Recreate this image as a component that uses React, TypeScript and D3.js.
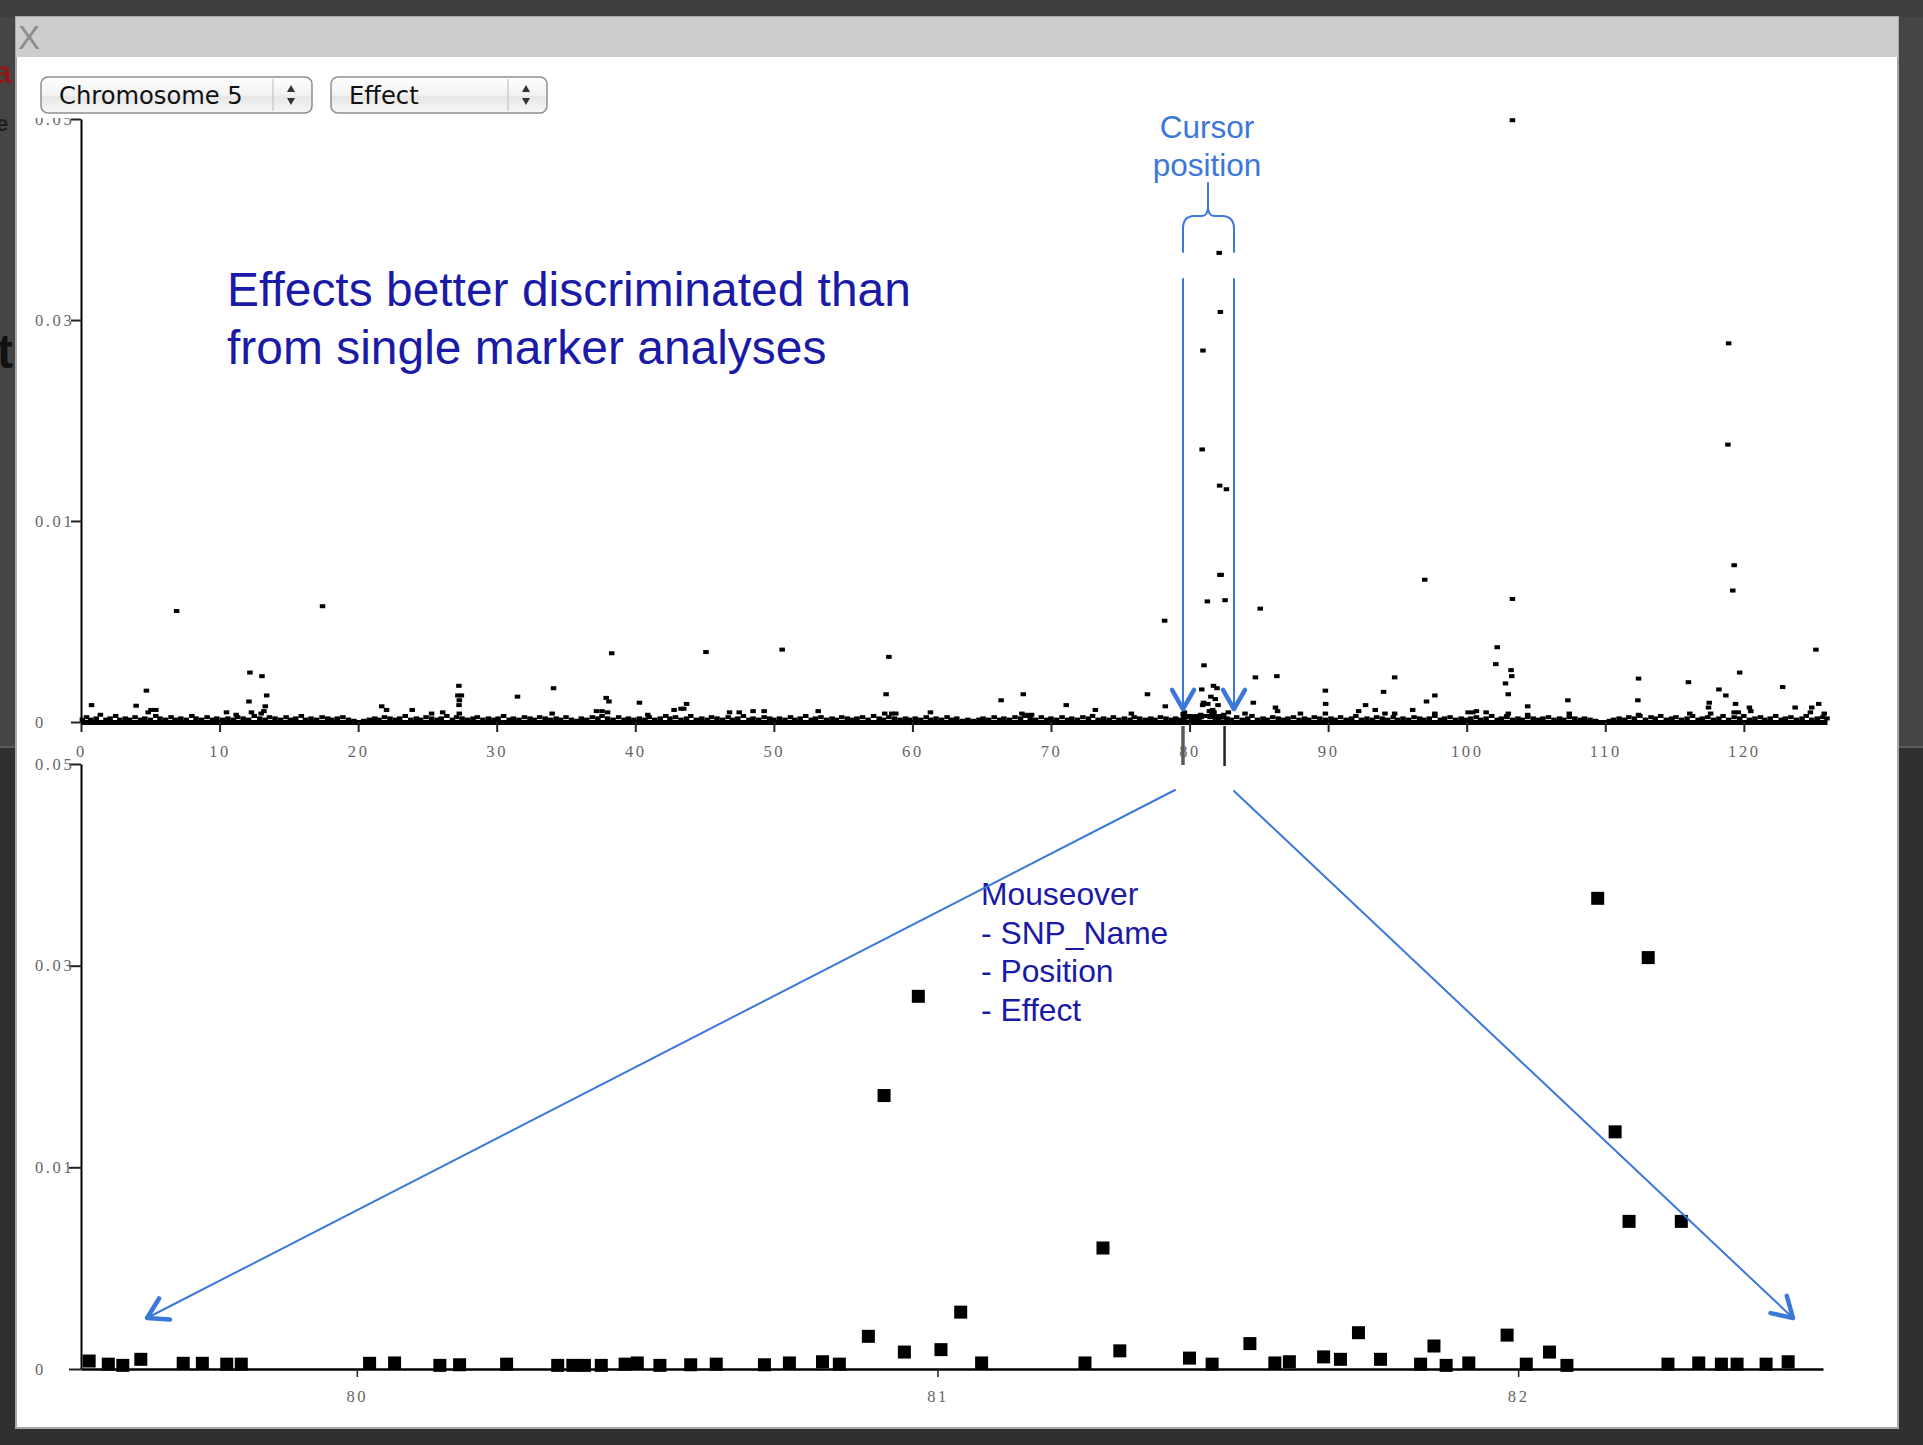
import React, { useRef, useEffect } from 'react';
import * as d3 from 'd3';

// Chromosome 5, marker effect by position (cM)

// isolated markers of the overview plot: [position, effect]
const overviewPeaks: [number, number][] = [
  [0.76, 0.0014], [3.98, 0.00135], [4.72, 0.0026], [4.85, 0.0008], [5.05, 0.001], [5.4, 0.001],
  [6.9, 0.0092], [10.5, 0.0008], [11.2, 0.0006], [12.12, 0.0017], [12.19, 0.0041], [12.3, 0.0008],
  [13.06, 0.0038], [13.4, 0.0022], [13.3, 0.0013], [13.2, 0.0009], [13.0, 0.0007], [17.43, 0.0096],
  [21.7, 0.0013], [22.05, 0.001], [23.9, 0.001], [25.3, 0.0007], [26.1, 0.0008],
  [27.27, 0.003], [27.2, 0.0022], [27.45, 0.0022], [27.3, 0.0018], [27.28, 0.0014], [27.3, 0.0007],
  [31.5, 0.0021], [34.1, 0.0028], [34.0, 0.0007], [37.2, 0.0009], [37.6, 0.0009], [37.9, 0.002],
  [38.1, 0.0017], [38.0, 0.0008], [38.3, 0.0057], [40.3, 0.0016], [40.9, 0.0006], [42.8, 0.001],
  [43.3, 0.0011], [43.7, 0.0015], [43.5, 0.0011], [45.1, 0.0058], [46.8, 0.0008], [47.5, 0.0008],
  [48.5, 0.0009], [49.3, 0.0009], [50.6, 0.006], [53.2, 0.0009], [58.0, 0.0007], [58.1, 0.0023],
  [58.3, 0.0054], [58.5, 0.0007], [58.8, 0.0007], [61.3, 0.0008], [66.4, 0.0018], [67.9, 0.0007],
  [68.0, 0.0023], [68.2, 0.0006], [68.4, 0.0005], [68.6, 0.0006], [71.1, 0.0014], [73.2, 0.001],
  [75.8, 0.0007], [76.96, 0.0023], [78.2, 0.0084], [78.25, 0.0013], [82.56, 0.0101], [82.66, 0.0193],
  [82.8, 0.0008], [84.0, 0.0007], [84.6, 0.0016], [84.75, 0.0037], [85.1, 0.0094], [86.2, 0.0012],
  [86.3, 0.0038], [86.35, 0.0009], [88.0, 0.0007], [89.8, 0.0026], [89.82, 0.0015], [89.8, 0.0007],
  [92.2, 0.0009], [92.7, 0.0014], [93.4, 0.001], [94.0, 0.0025], [94.8, 0.0037], [94.1, 0.0007],
  [94.8, 0.0007], [96.1, 0.001], [96.97, 0.0118], [97.1, 0.0017], [97.7, 0.0022], [97.7, 0.0007],
  [100.1, 0.0008], [100.45, 0.0008], [100.7, 0.0009], [101.4, 0.0008], [102.1, 0.0048], [102.2, 0.0062],
  [102.8, 0.0032], [103.0, 0.0023], [103.2, 0.0043], [103.25, 0.0038], [103.3, 0.0102], [103.3, 0.0499],
  [103.0, 0.0007], [102.9, 0.0005], [104.4, 0.0013], [104.4, 0.0006], [107.3, 0.0018], [107.4, 0.0007],
  [112.4, 0.0036], [112.35, 0.0018], [112.4, 0.0006], [116.0, 0.0033], [116.1, 0.0007], [117.5, 0.0016],
  [117.45, 0.0012], [117.6, 0.0007], [118.2, 0.0027], [118.7, 0.0022], [118.9, 0.0314], [118.85, 0.023],
  [119.3, 0.013], [119.2, 0.0109], [119.4, 0.0015], [119.7, 0.0041], [119.6, 0.0008], [119.3, 0.0008],
  [120.4, 0.0012], [120.5, 0.0009], [122.8, 0.0029], [123.7, 0.0012], [124.9, 0.0012], [124.8, 0.0008],
  [125.2, 0.006], [125.4, 0.0015], [125.8, 0.0007],
];

// dense band of small effects along the axis: [position, effect x 1e-4]
const baselineBand: [number, number][] = [
  [0.1, 2], [0.4, 4], [0.7, 2], [1.1, 3], [1.4, 6], [1.8, 2], [2.1, 3], [2.5, 5], [2.8, 2], [3.2, 3],
  [3.5, 2], [3.9, 4], [4.3, 2], [4.6, 3], [5.0, 2], [5.4, 5], [5.7, 3], [6.1, 2], [6.5, 4], [6.8, 2],
  [7.2, 3], [7.6, 2], [8.0, 5], [8.3, 3], [8.7, 2], [9.1, 4], [9.5, 2], [9.8, 3],
  [10.2, 2], [10.6, 3], [11.0, 2], [11.3, 4], [11.7, 3], [12.1, 2], [12.5, 5], [12.9, 3], [13.3, 2],
  [13.6, 4], [14.0, 3], [14.4, 2], [14.8, 4], [15.1, 2], [15.5, 3], [15.9, 5], [16.2, 2], [16.6, 3],
  [17.0, 2], [17.4, 4], [17.8, 3], [18.1, 2], [18.5, 3], [18.9, 4], [19.3, 2], [19.7, 1],
  [20.4, 1], [20.8, 2], [21.2, 3], [21.5, 2], [21.9, 4], [22.3, 3], [22.7, 2], [23.0, 3], [23.4, 5],
  [23.8, 2], [24.2, 3], [24.5, 2], [24.9, 4], [25.3, 3], [25.7, 2], [26.0, 3], [26.4, 5], [26.8, 2],
  [27.1, 4], [27.5, 3], [27.9, 2], [28.3, 3], [28.6, 4], [29.0, 2], [29.4, 3], [29.8, 2],
  [30.1, 3], [30.5, 5], [30.9, 2], [31.2, 3], [31.6, 2], [32.0, 4], [32.4, 3], [32.7, 2], [33.1, 4],
  [33.5, 3], [33.9, 2], [34.3, 3], [34.6, 2], [35.0, 4], [35.4, 2], [35.8, 1], [36.1, 3], [36.5, 2],
  [36.9, 4], [37.3, 3], [37.6, 5], [38.0, 3], [38.4, 2], [38.8, 4], [39.2, 2], [39.5, 3], [39.9, 2],
  [40.3, 3], [40.7, 2], [41.0, 4], [41.4, 2], [41.8, 3], [42.2, 5], [42.5, 3], [42.9, 4], [43.3, 2],
  [43.7, 3], [44.0, 5], [44.4, 2], [44.8, 3], [45.2, 2], [45.5, 4], [45.9, 3], [46.3, 2], [46.7, 4],
  [47.0, 2], [47.4, 3], [47.8, 5], [48.2, 2], [48.5, 3], [48.9, 2], [49.3, 4], [49.7, 3],
  [50.0, 2], [50.4, 3], [50.8, 2], [51.2, 4], [51.5, 2], [51.9, 3], [52.3, 5], [52.7, 2], [53.0, 3],
  [53.4, 4], [53.8, 2], [54.2, 3], [54.5, 2], [54.9, 4], [55.3, 3], [55.7, 2], [56.0, 3], [56.4, 4],
  [56.8, 2], [57.2, 5], [57.6, 3], [57.9, 2], [58.3, 4], [58.7, 3], [59.1, 2], [59.5, 3], [59.8, 2],
  [60.2, 3], [60.6, 2], [61.0, 4], [61.3, 2], [61.7, 3], [62.1, 2], [62.5, 4], [62.8, 2], [63.2, 3],
  [63.6, 1], [64.0, 2], [64.4, 1], [64.8, 2], [65.1, 3], [65.5, 2], [65.9, 4], [66.3, 2], [66.6, 3],
  [67.0, 2], [67.4, 4], [67.8, 3], [68.1, 5], [68.5, 3], [68.9, 2], [69.3, 4], [69.7, 2],
  [70.0, 3], [70.4, 2], [70.8, 4], [71.2, 2], [71.5, 3], [71.9, 2], [72.3, 4], [72.7, 3], [73.0, 5],
  [73.4, 2], [73.8, 3], [74.2, 2], [74.5, 4], [74.9, 2], [75.3, 3], [75.7, 2], [76.0, 4], [76.4, 3],
  [76.8, 2], [77.2, 3], [77.5, 2], [77.9, 4], [78.3, 3], [78.7, 2], [79.0, 3], [79.3, 2],
  [82.7, 3], [83.0, 2], [83.4, 4], [83.8, 2], [84.2, 3], [84.5, 5], [84.9, 2], [85.3, 3], [85.6, 2],
  [86.0, 4], [86.4, 3], [86.8, 2], [87.1, 3], [87.5, 4], [87.9, 2], [88.3, 3], [88.6, 2], [89.0, 4],
  [89.4, 3], [89.8, 2],
  [90.2, 3], [90.5, 2], [90.9, 4], [91.3, 2], [91.7, 3], [92.0, 5], [92.4, 2], [92.8, 3], [93.2, 2],
  [93.5, 4], [93.9, 3], [94.3, 2], [94.7, 4], [95.0, 2], [95.4, 3], [95.8, 2], [96.2, 4], [96.6, 3],
  [96.9, 2], [97.3, 3], [97.7, 5], [98.1, 2], [98.4, 3], [98.8, 4], [99.2, 2], [99.6, 3], [99.9, 2],
  [100.3, 3], [100.7, 4], [101.0, 2], [101.4, 3], [101.8, 5], [102.2, 2], [102.5, 3], [102.9, 4],
  [103.3, 2], [103.7, 3], [104.0, 2], [104.4, 4], [104.8, 3], [105.2, 2], [105.5, 3], [105.9, 4],
  [106.3, 2], [106.7, 3], [107.0, 2], [107.4, 4], [107.8, 3], [108.2, 2], [108.5, 3], [108.9, 2], [109.3, 1],
  [110.3, 1], [110.6, 2], [111.0, 3], [111.4, 2], [111.7, 4], [112.1, 3], [112.5, 5], [112.9, 2],
  [113.3, 4], [113.6, 3], [114.0, 5], [114.4, 2], [114.8, 3], [115.1, 4], [115.5, 2], [115.9, 3],
  [116.3, 5], [116.7, 2], [117.0, 3], [117.4, 4], [117.8, 2], [118.2, 3], [118.5, 5], [118.9, 2],
  [119.3, 4], [119.7, 3], [120.0, 5], [120.4, 2], [120.8, 3], [121.2, 4], [121.5, 2], [121.9, 3],
  [122.3, 5], [122.7, 2], [123.0, 3], [123.4, 4], [123.8, 2], [124.2, 3], [124.5, 5], [124.9, 2],
  [125.3, 3], [125.7, 4], [126.0, 3],
];

// markers under the cursor window, drawn in both plots: [position, effect]
const windowMarkers: [number, number][] = [
  [79.539, 0.00066], [79.572, 0.0004], [79.597, 0.0003], [79.628, 0.0008], [79.701, 0.00047],
  [79.734, 0.00047], [79.776, 0.0004], [79.801, 0.0004], [80.022, 0.00047], [80.065, 0.0005],
  [80.143, 0.0003], [80.177, 0.00035], [80.258, 0.0004], [80.346, 0.0003], [80.372, 0.0003],
  [80.392, 0.0003], [80.421, 0.0003], [80.462, 0.0004], [80.483, 0.0005], [80.522, 0.0003],
  [80.575, 0.00035], [80.619, 0.0004], [80.702, 0.00035], [80.745, 0.0005], [80.802, 0.0006],
  [80.831, 0.0004], [80.881, 0.0027], [80.908, 0.0226], [80.943, 0.0014], [80.967, 0.0308],
  [81.006, 0.0016], [81.04, 0.0047], [81.076, 0.0005], [81.254, 0.0005], [81.285, 0.01],
  [81.314, 0.0015], [81.434, 0.0009], [81.473, 0.0004], [81.538, 0.0021], [81.581, 0.0005],
  [81.606, 0.0006], [81.665, 0.001], [81.694, 0.0008], [81.725, 0.003], [81.763, 0.0008],
  [81.832, 0.0004], [81.855, 0.0019], [81.876, 0.0003], [81.915, 0.0005], [81.981, 0.0028],
  [82.014, 0.0004], [82.054, 0.0014], [82.084, 0.0003], [82.137, 0.0389], [82.167, 0.0196],
  [82.191, 0.0122], [82.224, 0.034], [82.258, 0.0004], [82.281, 0.0122], [82.311, 0.0005],
  [82.35, 0.0004], [82.377, 0.0004], [82.427, 0.0004], [82.465, 0.0006],
];

const chromosomeLength = 126;
const cursorWindow: [number, number] = [79.525, 82.525];
const effectMax = 0.05;
const yTickValues = [0, 0.01667, 0.03333, 0.05];
const yTickLabels = ['0', '0.01', '0.03', '0.05'];

const dropdowns = [
  { label: 'Chromosome 5', x: 41, w: 271, divider: 232 },
  { label: 'Effect', x: 331, w: 216, divider: 177 },
];
const noteLines = ['Effects better discriminated than', 'from single marker analyses'];
const mouseoverLines = ['Mouseover', '- SNP_Name', '- Position', '- Effect'];
const cursorLabel = ['Cursor', 'position'];

const BLUE = '#3b78d9';
const NAVY = '#1a1aa6';
const SERIF = '"Liberation Serif", "DejaVu Serif", serif';
const SANS = '"Liberation Sans", Arial, sans-serif';

function arrowHead(tip: [number, number], from: [number, number], len = 23, spread = 31) {
  const a = Math.atan2(from[1] - tip[1], from[0] - tip[0]);
  const s = (spread * Math.PI) / 180;
  const p1 = [tip[0] + len * Math.cos(a + s), tip[1] + len * Math.sin(a + s)];
  const p2 = [tip[0] + len * Math.cos(a - s), tip[1] + len * Math.sin(a - s)];
  return `M${p1[0]},${p1[1]}L${tip[0]},${tip[1]}L${p2[0]},${p2[1]}`;
}

function App() {
  const topXRef = useRef<SVGGElement>(null);
  const topYRef = useRef<SVGGElement>(null);
  const botXRef = useRef<SVGGElement>(null);
  const botYRef = useRef<SVGGElement>(null);

  const xTop = d3.scaleLinear().domain([0, chromosomeLength]).range([81, 1827]);
  const yTop = d3.scaleLinear().domain([0, effectMax]).range([722, 119]);
  const xBot = d3.scaleLinear().domain(cursorWindow).range([81, 1823]);
  const yBot = d3.scaleLinear().domain([0, effectMax]).range([1369, 764]);

  const overview: [number, number][] = [
    ...baselineBand.map(([p, e]) => [p, e * 1e-4] as [number, number]),
    ...overviewPeaks,
    ...windowMarkers,
  ];
  const zoomed = windowMarkers.filter(([p]) => p >= cursorWindow[0] && p <= cursorWindow[1]);

  useEffect(() => {
    const style = (g: any, domainW: number, tickW: number) => {
      g.attr('font-family', SERIF).attr('font-size', 16.5);
      g.select('.domain').attr('stroke', '#000').attr('stroke-width', domainW);
      g.selectAll('.tick line').attr('stroke', '#222').attr('stroke-width', tickW);
      g.selectAll('.tick text').attr('fill', '#666').style('letter-spacing', '2.6px');
    };
    const yFormat = (_: any, i: number) => yTickLabels[i];

    const tx = d3.select(topXRef.current);
    tx.call(d3.axisBottom(xTop).ticks(13).tickSize(10).tickSizeOuter(0).tickPadding(13) as any);
    style(tx, 5, 2);

    const ty = d3.select(topYRef.current);
    ty.call(d3.axisLeft(yTop).tickValues(yTickValues).tickFormat(yFormat as any).tickSize(10).tickSizeOuter(0) as any);
    style(ty, 2, 2);
    ty.selectAll('.tick text').attr('x', -46).attr('text-anchor', 'start');

    const bx = d3.select(botXRef.current);
    bx.call(d3.axisBottom(xBot).ticks(3).tickSize(8).tickSizeOuter(0).tickPadding(13) as any);
    style(bx, 2.5, 1.5);

    const by = d3.select(botYRef.current);
    by.call(d3.axisLeft(yBot).tickValues(yTickValues).tickFormat(yFormat as any).tickSize(12).tickSizeOuter(0) as any);
    style(by, 2, 2);
    by.selectAll('.tick text').attr('x', -46).attr('text-anchor', 'start');
  }, []);

  const cx0 = xTop(cursorWindow[0]);
  const cx1 = xTop(cursorWindow[1]);

  return (
    <svg width={1923} height={1445} style={{ position: 'absolute', left: 0, top: 0 }}>
      <defs>
        <linearGradient id="btn" x1="0" y1="0" x2="0" y2="1">
          <stop offset="0%" stopColor="#ffffff" />
          <stop offset="50%" stopColor="#f2f2f2" />
          <stop offset="55%" stopColor="#e6e6e6" />
          <stop offset="100%" stopColor="#f7f7f7" />
        </linearGradient>
        <clipPath id="topYClip">
          <rect x={0} y={118} width={200} height={700} />
        </clipPath>
      </defs>

      {/* darkened page behind the dialog */}
      <rect x={0} y={0} width={1923} height={747} fill="#454545" />
      <rect x={0} y={747} width={1923} height={698} fill="#303030" />
      <rect x={0} y={0} width={1923} height={17} fill="#3e3e3e" />
      <line x1={0} x2={1923} y1={747} y2={747} stroke="#5c5c5c" strokeWidth={2} />
      <text x={-6} y={83} fontFamily={SANS} fontWeight="bold" fontSize={32} fill="#8b1a1a">a</text>
      <text x={-4} y={131} fontFamily={SANS} fontWeight="bold" fontSize={22} fill="#1e1e1e">e</text>
      <text x={-3} y={368} fontFamily={SANS} fontWeight="bold" fontSize={48} fill="#111">t</text>

      {/* dialog */}
      <rect x={16} y={17} width={1882} height={1411} fill="#ffffff" stroke="#a8a8a8" strokeWidth={2} />
      <rect x={16} y={17} width={1882} height={40} fill="#cdcdcd" />
      <text x={18} y={49} fontFamily={SANS} fontSize={33} fill="#8c8c8c">X</text>

      {dropdowns.map((d) => (
        <g key={d.label} transform={`translate(${d.x},77)`}>
          <rect x={0} y={0} width={d.w} height={36} rx={7} fill="url(#btn)" stroke="#8e8e8e" strokeWidth={1.5} />
          <line x1={d.divider} x2={d.divider} y1={2} y2={34} stroke="#c4c4c4" strokeWidth={1.2} />
          <text x={18} y={27} fontFamily='"DejaVu Sans", Verdana, sans-serif' fontSize={24.2} fill="#111">{d.label}</text>
          <path d={`M${d.divider + 14},15 L${d.divider + 22},15 L${d.divider + 18},8 Z`} fill="#333" />
          <path d={`M${d.divider + 14},21 L${d.divider + 22},21 L${d.divider + 18},28 Z`} fill="#333" />
        </g>
      ))}

      {/* overview plot */}
      <g>
        {overview.map(([p, e], i) => (
          <rect key={i} x={xTop(p) - 2.75} y={yTop(e) - 2} width={5.5} height={4} fill="#000" />
        ))}
      </g>
      <g ref={topXRef} transform="translate(0,722)" />
      <g clipPath="url(#topYClip)">
        <g ref={topYRef} transform="translate(81,0)" />
      </g>
      <line x1={cx0} x2={cx0} y1={726} y2={765} stroke="#5a5a5a" strokeWidth={3.5} />
      <line x1={cx1} x2={cx1} y1={726} y2={766} stroke="#222" strokeWidth={2.5} />

      {/* zoomed plot */}
      <g ref={botXRef} transform="translate(0,1369)" />
      <g ref={botYRef} transform="translate(81,0)" />
      <g>
        {zoomed.map(([p, e], i) => (
          <rect key={i} x={xBot(p) - 6.5} y={yBot(e) - 6.5} width={13} height={13} fill="#000" />
        ))}
      </g>

      {/* annotations */}
      <g fontFamily={SANS} fill={NAVY}>
        {noteLines.map((t, i) => (
          <text key={t} x={227} y={306 + i * 58} fontSize={47.95}>{t}</text>
        ))}
        {mouseoverLines.map((t, i) => (
          <text key={t} x={981} y={905 + i * 38.5} fontSize={31.8}>{t}</text>
        ))}
      </g>
      <g fontFamily={SANS} fill={BLUE} textAnchor="middle">
        {cursorLabel.map((t, i) => (
          <text key={t} x={1207} y={138 + i * 38} fontSize={31.5}>{t}</text>
        ))}
      </g>
      <g fill="none" stroke={BLUE} strokeLinecap="round" strokeLinejoin="round">
        <path
          d="M1183,252 L1183,229 Q1183,216 1194,216 L1202,216 Q1208,216 1208,206 L1208,183 M1208,206 Q1208,216 1214,216 L1222,216 Q1234,216 1234,229 L1234,252"
          strokeWidth={2}
        />
        <line x1={1183} x2={1183} y1={279} y2={708} strokeWidth={2} />
        <line x1={1234} x2={1234} y1={279} y2={708} strokeWidth={2} />
        <path d={arrowHead([1183, 709], [1183, 279], 22, 30)} strokeWidth={4.5} />
        <path d={arrowHead([1234, 709], [1234, 279], 22, 30)} strokeWidth={4.5} />
        <line x1={1175} y1={790} x2={147} y2={1318} strokeWidth={2} />
        <line x1={1234} y1={791} x2={1793} y2={1318} strokeWidth={2} />
        <path d={arrowHead([147, 1318], [1175, 790])} strokeWidth={4.5} />
        <path d={arrowHead([1793, 1318], [1234, 791])} strokeWidth={4.5} />
      </g>
    </svg>
  );
}

export default App;
